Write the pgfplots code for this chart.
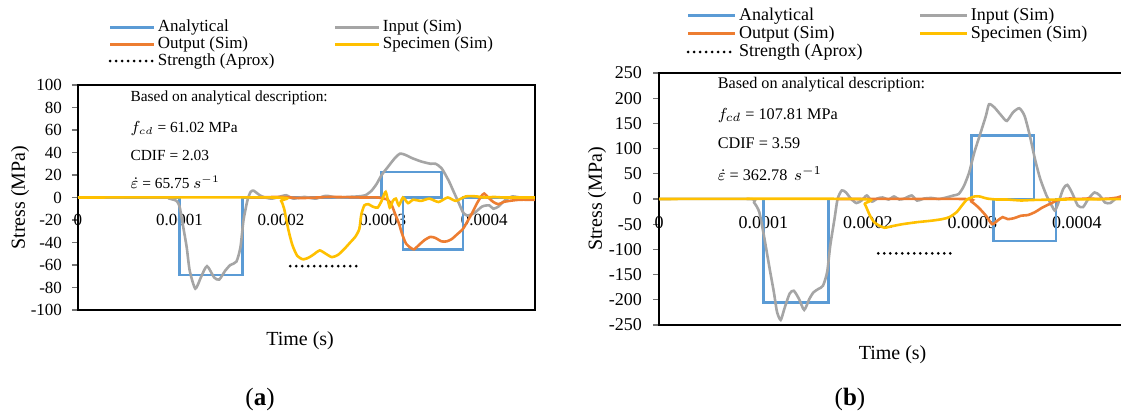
\documentclass[border=0pt]{standalone}
\usepackage{pgfplots}
\usepackage{pgfplotstable}
\pgfplotsset{compat=1.18}
\usepackage{fontspec}
\setmainfont{Liberation Serif}
\definecolor{cblue}{HTML}{5B9BD5}
\definecolor{cgray}{HTML}{A5A5A5}
\definecolor{corange}{HTML}{ED7D31}
\definecolor{cyellow}{HTML}{FFC000}

% ---------------- panel (a) data ----------------
\pgfplotstableread{
t v
0 0
1e-4 0
1e-4 -69
1.62e-4 -69
1.62e-4 0
2.99e-4 0
2.99e-4 22.5
3.58e-4 22.5
3.58e-4 0
3.2e-4 0
3.2e-4 -46
3.79e-4 -46
3.79e-4 0
4.5e-4 0
}\Aana
\pgfplotstableread{
t v
0 0
0.85e-4 0
0.9e-4 -1
0.97e-4 -3
1.0e-4 -8
1.03e-4 -23
1.07e-4 -44
1.10e-4 -65
1.155e-4 -81
1.21e-4 -71
1.27e-4 -61
1.34e-4 -71
1.39e-4 -73
1.45e-4 -65
1.50e-4 -60
1.56e-4 -57
1.60e-4 -44
1.63e-4 -20
1.67e-4 -2
1.70e-4 5
1.73e-4 6
1.79e-4 2
1.84e-4 0
1.91e-4 -1
1.98e-4 0.5
2.05e-4 2
2.12e-4 -1
2.23e-4 0.5
2.34e-4 -1
2.44e-4 1.5
2.55e-4 0
2.66e-4 0.5
2.76e-4 1
2.83e-4 2
2.89e-4 6
2.94e-4 12
2.99e-4 20
3.05e-4 27
3.12e-4 35
3.17e-4 39
3.22e-4 38
3.29e-4 35
3.38e-4 32
3.47e-4 30
3.52e-4 30
3.58e-4 26
3.65e-4 15
3.70e-4 5
3.75e-4 -5
3.79e-4 -13
3.83e-4 -16
3.90e-4 -14
3.98e-4 -8
4.05e-4 -7
4.09e-4 -10
4.14e-4 -8
4.21e-4 -2
4.28e-4 1
4.35e-4 0
4.5e-4 0
}\Ain
\pgfplotstableread{
t v
1.7e-4 0
2.0e-4 0.5
2.2e-4 -0.5
2.5e-4 0.5
2.8e-4 0
2.95e-4 0
3.05e-4 -2
3.09e-4 -7
3.12e-4 -14
3.16e-4 -23
3.19e-4 -32
3.23e-4 -41
3.28e-4 -45
3.31e-4 -46
3.36e-4 -42
3.41e-4 -38
3.47e-4 -35
3.52e-4 -36
3.58e-4 -39
3.63e-4 -39
3.68e-4 -37
3.73e-4 -33
3.79e-4 -28
3.83e-4 -22
3.88e-4 -14
3.93e-4 -5
3.97e-4 1
4.0e-4 3.5
4.04e-4 0
4.09e-4 -4
4.14e-4 -6
4.19e-4 -4
4.25e-4 -3
4.35e-4 -2
4.5e-4 -2
}\Aout
\pgfplotstableread{
t v
0 0
1.95e-4 0
2.0e-4 -3
2.03e-4 -10
2.07e-4 -28
2.11e-4 -42
2.16e-4 -52
2.22e-4 -55
2.28e-4 -53
2.33e-4 -50
2.38e-4 -47
2.44e-4 -50
2.50e-4 -53
2.56e-4 -51
2.62e-4 -46
2.68e-4 -40
2.73e-4 -35
2.77e-4 -28
2.79e-4 -15
2.82e-4 -7
2.86e-4 -6
2.90e-4 -8
2.95e-4 -9
2.99e-4 -3
3.03e-4 5
3.07e-4 -9
3.10e-4 -3
3.13e-4 -1
3.16e-4 -7
3.20e-4 0
3.25e-4 -5
3.30e-4 -2
3.38e-4 -3
3.46e-4 -1
3.55e-4 -4
3.64e-4 0
3.72e-4 -3
3.82e-4 1
3.92e-4 1
4.0e-4 0
4.1e-4 0.5
4.2e-4 0
4.5e-4 0
}\Aspec
\pgfplotstableread{
t v
2.09e-4 -61.02
2.76e-4 -61.02
}\Astr

% ---------------- panel (b) data ----------------
\pgfplotstableread{
t v
0 0
1e-4 0
1e-4 -205
1.62e-4 -205
1.62e-4 0
2.99e-4 0
2.99e-4 126
3.59e-4 126
3.59e-4 0
3.2e-4 0
3.2e-4 -83
3.8e-4 -83
3.8e-4 0
4.5e-4 0
}\Bana
\pgfplotstableread{
t v
0 0
0.86e-4 0
0.91e-4 -7
0.96e-4 -26
1.01e-4 -79
1.06e-4 -139
1.10e-4 -185
1.13e-4 -224
1.165e-4 -240
1.20e-4 -218
1.25e-4 -188
1.29e-4 -182
1.34e-4 -198
1.39e-4 -220
1.44e-4 -198
1.48e-4 -185
1.53e-4 -178
1.57e-4 -172
1.61e-4 -145
1.64e-4 -92
1.68e-4 -40
1.71e-4 0
1.75e-4 17
1.79e-4 13
1.84e-4 0
1.89e-4 -8
1.94e-4 -3
1.99e-4 7
2.04e-4 -5
2.09e-4 1
2.14e-4 3
2.20e-4 -1
2.25e-4 5
2.30e-4 -1
2.35e-4 1
2.42e-4 7
2.47e-4 -3
2.54e-4 1
2.61e-4 2
2.68e-4 0
2.75e-4 3
2.82e-4 7
2.87e-4 10
2.92e-4 26
2.97e-4 53
3.02e-4 93
3.08e-4 132
3.13e-4 165
3.16e-4 188
3.21e-4 182
3.28e-4 165
3.33e-4 155
3.39e-4 172
3.45e-4 180
3.50e-4 165
3.55e-4 126
3.60e-4 79
3.65e-4 40
3.71e-4 7
3.76e-4 -13
3.79e-4 -23
3.82e-4 -10
3.87e-4 20
3.91e-4 28
3.96e-4 10
4.01e-4 -13
4.06e-4 -16
4.11e-4 0
4.17e-4 13
4.22e-4 7
4.27e-4 -7
4.32e-4 -8
4.37e-4 0
4.42e-4 3
4.5e-4 2
}\Bin
\pgfplotstableread{
t v
1.7e-4 0
2.92e-4 0
2.99e-4 -5
3.06e-4 -17
3.13e-4 -33
3.19e-4 -50
3.24e-4 -43
3.29e-4 -36
3.34e-4 -40
3.40e-4 -38
3.47e-4 -33
3.53e-4 -32
3.60e-4 -26
3.67e-4 -17
3.74e-4 -10
3.81e-4 -3
3.87e-4 0
3.94e-4 1
4.01e-4 0
4.11e-4 1
4.21e-4 0
4.32e-4 1
4.39e-4 3
4.42e-4 5
4.5e-4 6
}\Bout
\pgfplotstableread{
t v
0 0
1.92e-4 0
1.97e-4 -10
2.02e-4 -33
2.06e-4 -46
2.11e-4 -53
2.16e-4 -57
2.23e-4 -54
2.33e-4 -50
2.47e-4 -46
2.61e-4 -43
2.71e-4 -40
2.78e-4 -36
2.85e-4 -26
2.90e-4 -13
2.95e-4 -1
3.02e-4 5
3.07e-4 5
3.14e-4 1
3.23e-4 -1
3.33e-4 -1
3.47e-4 -3
3.57e-4 -2
3.84e-4 -1
4.5e-4 0
}\Bspec
\pgfplotstableread{
t v
2.1e-4 -107.81
2.8e-4 -107.81
}\Bstr

\pgfplotsset{
  common/.style={
    scale only axis,
    anchor=south west,
    xmin=0, xmax=0.00045,
    scaled x ticks=false,
    xtick={0,0.0001,0.0002,0.0003,0.0004},
    xticklabels={0,0.0001,0.0002,0.0003,0.0004},
    axis line style={black, line width=0.7pt},
    tick align=outside,
    major tick length=3pt,
    ytick pos=left,
    xtick pos=bottom,
    x tick style={draw=none},
    y tick style={black!55, line width=0.6pt},
    legend columns=2,
    legend cell align=left,
    clip=true,
  },
  sana/.style={cblue, line width=1.3pt},
  sin/.style={cgray, line width=1.3pt, smooth, tension=0.4},
  sout/.style={corange, line width=1.3pt, smooth, tension=0.4},
  sspec/.style={cyellow, line width=1.3pt, smooth, tension=0.4},
  sstr/.style={black, line width=1.5pt, line cap=round, dash pattern=on 0pt off 3pt},
}

\begin{document}
\begin{tikzpicture}
\useasboundingbox (0,0) rectangle (560.5pt,207pt);

% ---------------- (a) ----------------
\begin{axis}[common,
  at={(39pt,52pt)}, width=228.5pt, height=112.5pt,
  ymin=-100, ymax=100,
  ytick={-100,-80,-60,-40,-20,0,20,40,60,80,100},
  yticklabels={-100,-80,-60,-40,-20,0,20,40,60,80,100},
  tick label style={font=\fontsize{8.5}{10}\selectfont},
  x tick label style={yshift=54.3pt},
  y tick label style={xshift=-1.5pt},
  xlabel={Time (s)}, ylabel={Stress (MPa)},
  label style={font=\fontsize{8.5}{10}\selectfont},
  every axis x label/.style={at={(axis description cs:0.486,-0.135)}, anchor=center},
  every axis y label/.style={at={(axis description cs:-0.127,0.5)}, rotate=90, anchor=center},
  legend image code/.code={\draw[#1] (0pt,0pt) -- (22pt,0pt);},
  legend style={draw=none, fill=none, at={(axis description cs:0.066,1.295)}, anchor=north west,
    inner xsep=0pt, inner ysep=0pt, row sep=0pt,
    font=\fontsize{8.5}{9}\selectfont,
    nodes={inner xsep=1.2pt, inner ysep=0.5pt},
    /tikz/every even column/.append style={column sep=28.5pt}},
]
\addplot[sana] table {\Aana};
\addplot[sin] table {\Ain};
\addplot[sout] table {\Aout};
\addplot[sspec] table {\Aspec};
\addplot[sstr] table {\Astr};
\legend{Analytical, Input (Sim), Output (Sim), Specimen (Sim), Strength (Aprox)}
\end{axis}

\begin{scope}[font=\fontsize{7.7}{9}\selectfont, every node/.style={inner sep=0.5pt, anchor=west}]
\node at (64.6pt,158pt) {Based on analytical description:};
\node at (64.6pt,143pt) {$f_{cd}$ = 61.02 MPa};
\node at (64.6pt,129.5pt) {CDIF = 2.03};
\node at (64.6pt,116pt) {$\dot{\varepsilon}$ = 65.75 $s^{-1}$};
\end{scope}

% ---------------- (b) ----------------
\begin{axis}[common,
  at={(329.5pt,44.5pt)}, width=235pt, height=126pt,
  ymin=-250, ymax=250,
  ytick={-250,-200,-150,-100,-50,0,50,100,150,200,250},
  yticklabels={-250,-200,-150,-100,-50,0,50,100,150,200,250},
  tick label style={font=\fontsize{9}{10}\selectfont},
  x tick label style={yshift=61pt},
  y tick label style={xshift=-2pt},
  xlabel={Time (s)}, ylabel={Stress (MPa)},
  label style={font=\fontsize{9}{10}\selectfont},
  every axis x label/.style={at={(axis description cs:0.497,-0.119)}, anchor=center},
  every axis y label/.style={at={(axis description cs:-0.132,0.5)}, rotate=90, anchor=center},
  legend image code/.code={\draw[#1] (0pt,0pt) -- (23.5pt,0pt);},
  legend style={draw=none, fill=none, at={(axis description cs:0.058,1.265)}, anchor=north west,
    inner xsep=0pt, inner ysep=0pt, row sep=0.4pt,
    font=\fontsize{9}{10}\selectfont,
    nodes={inner xsep=1.2pt, inner ysep=0.5pt},
    /tikz/every even column/.append style={column sep=27pt}},
]
\addplot[sana] table {\Bana};
\addplot[sin] table {\Bin};
\addplot[sout] table {\Bout};
\addplot[sspec] table {\Bspec};
\addplot[sstr] table {\Bstr};
\legend{Analytical, Input (Sim), Output (Sim), Specimen (Sim), Strength (Aprox)}
\end{axis}

\begin{scope}[font=\fontsize{8.1}{9}\selectfont, every node/.style={inner sep=0.5pt, anchor=west}]
\node at (358.2pt,164.5pt) {Based on analytical description:};
\node at (358.2pt,149.5pt) {$f_{cd}$ = 107.81 MPa};
\node at (358.2pt,135.5pt) {CDIF = 3.59};
\node at (358.2pt,120pt) {$\dot{\varepsilon}$ = 362.78 \,$s^{-1}$};
\end{scope}

\node[font=\fontsize{12.5}{14}\selectfont] at (130pt,7.5pt) {(\textbf{a})};
\node[font=\fontsize{12.5}{14}\selectfont] at (425pt,7.5pt) {(\textbf{b})};
\end{tikzpicture}
\end{document}
